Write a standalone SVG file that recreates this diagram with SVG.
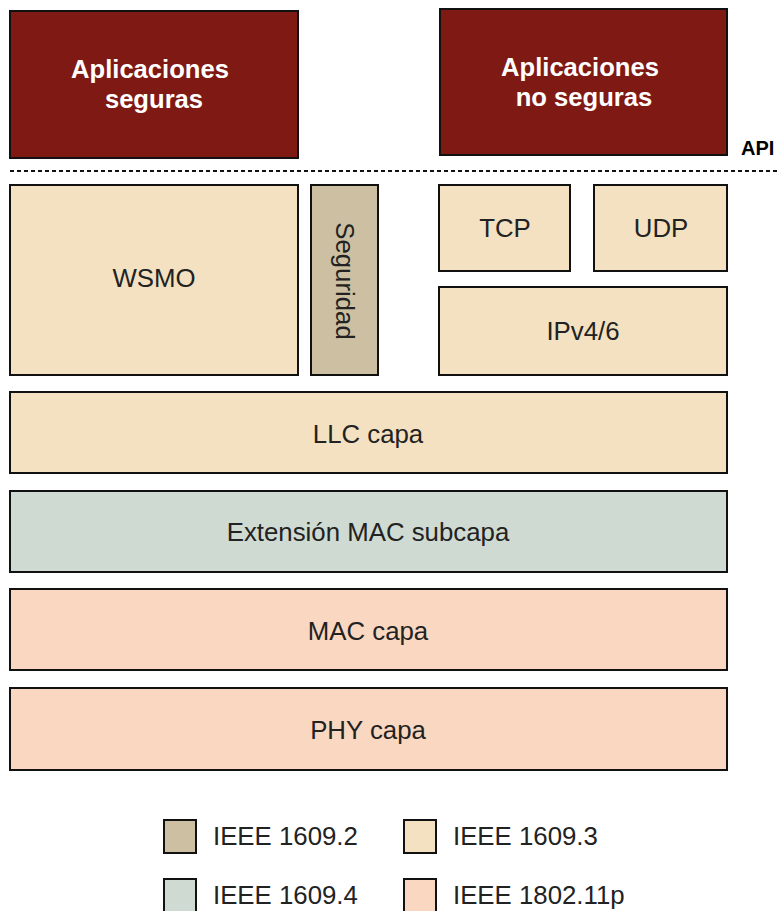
<svg xmlns="http://www.w3.org/2000/svg" width="777" height="911" viewBox="0 0 777 911">
<style>
.n{stroke:#111;stroke-width:2}
.app{fill:#7F1914}
.b{fill:#F3E1C1}
.s{fill:#CDBFA1}
.g{fill:#CFDBD2}
.p{fill:#FAD7C1}
text{font-family:"Liberation Sans",Arial,sans-serif;fill:#222;font-size:25.8px;text-anchor:middle}
.w{fill:#fff;font-weight:bold;font-size:25.6px}
.l{text-anchor:start}
</style>
<rect width="777" height="911" fill="#fff"/>
<g id="app-seguras"><rect class="n app" x="10" y="11" width="288" height="147"/><text class="w" x="150" y="78">Aplicaciones</text><text class="w" x="154" y="108">seguras</text></g>
<g id="app-noseguras"><rect class="n app" x="440" y="9" width="287" height="146"/><text class="w" x="580" y="76">Aplicaciones</text><text class="w" x="584" y="106">no seguras</text></g>
<text x="741" y="155" style="text-anchor:start;font-weight:bold;font-size:20px;fill:#000">API</text>
<g id="connectors"><line x1="10" y1="171" x2="777" y2="171" stroke="#111" stroke-width="2" stroke-dasharray="4 3"/></g>
<g id="wsmo"><rect class="n b" x="10" y="185" width="288" height="190"/><text x="154" y="287">WSMO</text></g>
<g id="seguridad"><rect class="n s" x="311" y="185" width="67" height="190"/><text transform="translate(336 281) rotate(90)">Seguridad</text></g>
<g id="tcp"><rect class="n b" x="439" y="185" width="131" height="86"/><text x="505" y="237">TCP</text></g>
<g id="udp"><rect class="n b" x="594" y="185" width="133" height="86"/><text x="661" y="237">UDP</text></g>
<g id="ip"><rect class="n b" x="439" y="287" width="288" height="88"/><text x="583" y="340">IPv4/6</text></g>
<g id="llc"><rect class="n b" x="10" y="392" width="717" height="81"/><text x="368" y="443">LLC capa</text></g>
<g id="ext"><rect class="n g" x="10" y="491" width="717" height="81"/><text x="368" y="541">Extensión MAC subcapa</text></g>
<g id="mac"><rect class="n p" x="10" y="589" width="717" height="81"/><text x="368" y="640">MAC capa</text></g>
<g id="phy"><rect class="n p" x="10" y="688" width="717" height="82"/><text x="368" y="739">PHY capa</text></g>
<g id="legend">
<rect class="n s" x="164" y="820" width="32" height="33"/><text class="l" x="213" y="845">IEEE 1609.2</text>
<rect class="n b" x="404" y="820" width="32" height="33"/><text class="l" x="453" y="845">IEEE 1609.3</text>
<rect class="n g" x="164" y="879" width="32" height="33"/><text class="l" x="213" y="904">IEEE 1609.4</text>
<rect class="n p" x="404" y="879" width="32" height="33"/><text class="l" x="453" y="904">IEEE 1802.11p</text>
</g>
</svg>
